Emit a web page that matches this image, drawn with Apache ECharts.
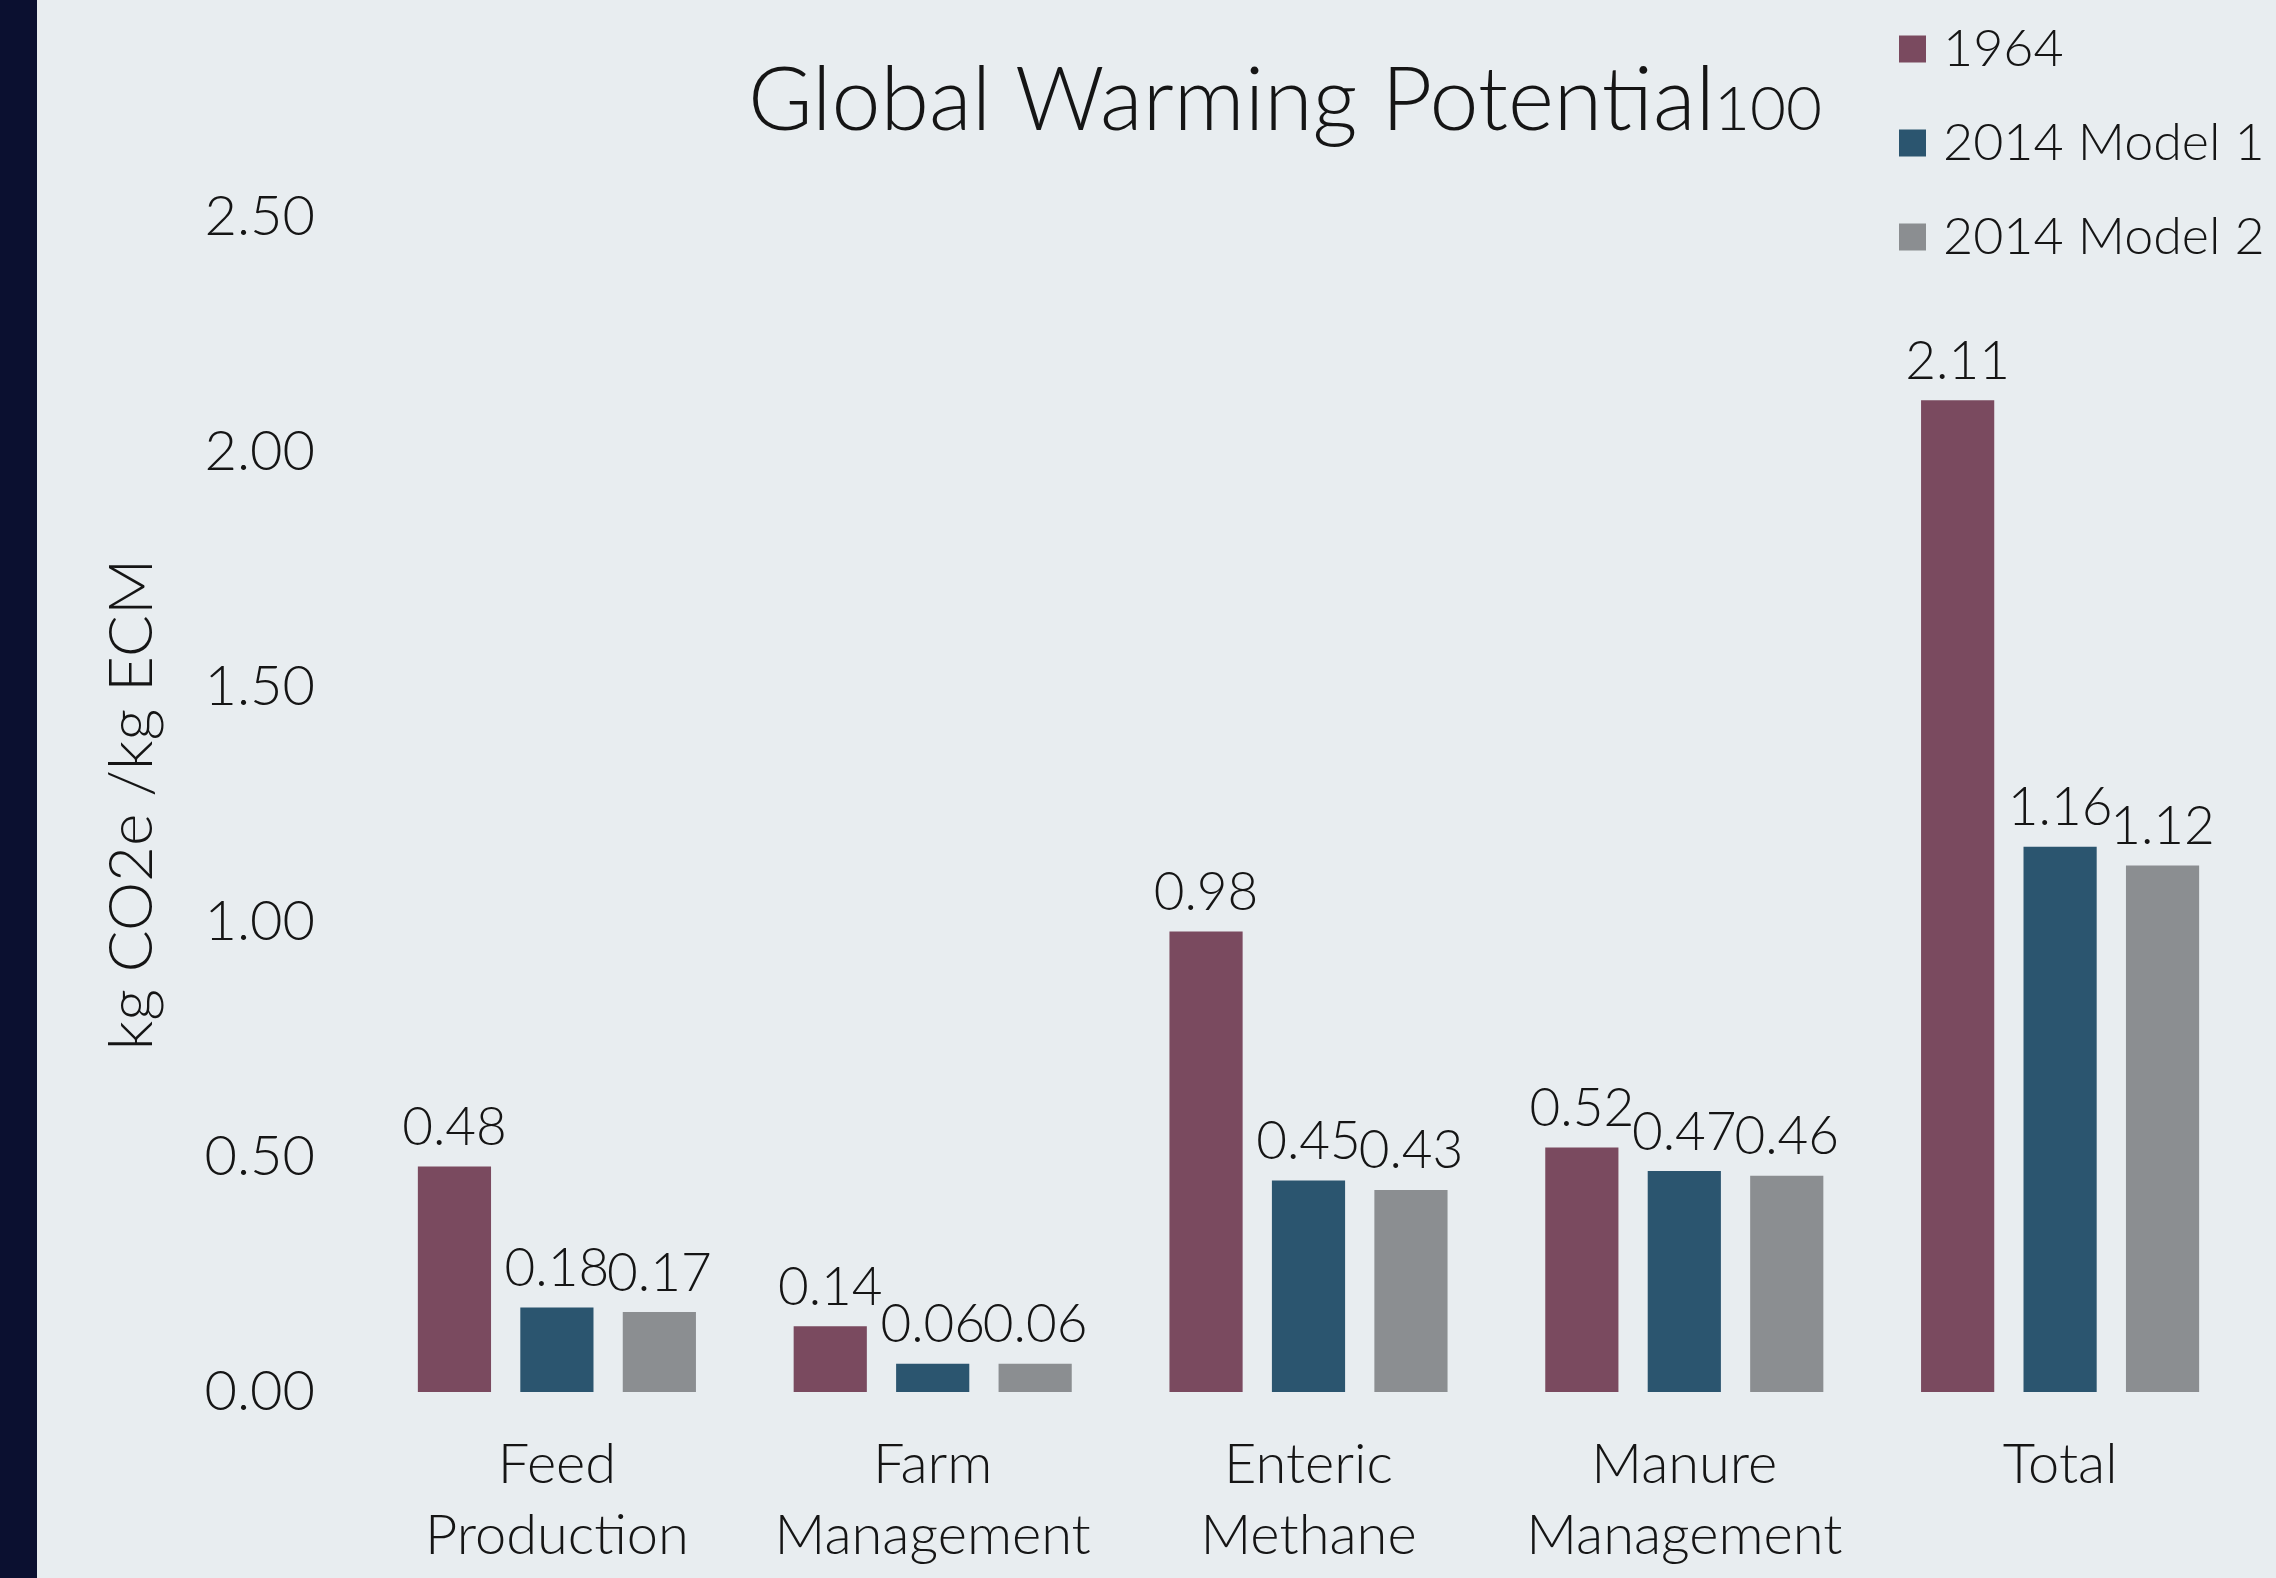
<!DOCTYPE html>
<html>
<head>
<meta charset="utf-8">
<script src="https://cdn.jsdelivr.net/npm/echarts@6/dist/echarts.min.js"></script>
<style>
html,body{margin:0;padding:0;background:#e8edf0;}
#chart{width:2276px;height:1578px;}
</style>
</head>
<body>
<div id="chart"></div>
<script>
const categories = ['Feed\nProduction', 'Farm\nManagement', 'Enteric\nMethane', 'Manure\nManagement', 'Total'];
const seriesNames = ['1964', '2014 Model 1', '2014 Model 2'];
const values1964 = [0.48, 0.14, 0.98, 0.52, 2.11];
const valuesModel1 = [0.18, 0.06, 0.45, 0.47, 1.16];
const valuesModel2 = [0.17, 0.06, 0.43, 0.46, 1.12];
const colors = ['#7a4a5f', '#2b556f', '#8b8e91'];
const titleMain = 'Global Warming Potential';
const titleSub = '100';

const FONT = 'Lato, "Open Sans", sans-serif';
const W = 300;
const chart = echarts.init(document.getElementById('chart'));

function barSeries(name, data, color) {
  return {
    name: name,
    type: 'bar',
    data: data,
    barGap: '40%',
    barCategoryGap: '26%',
    itemStyle: { color: color },
    label: {
      show: true,
      position: 'top',
      distance: 12,
      fontFamily: FONT,
      fontWeight: W,
      fontSize: 53,
      color: '#151515',
      formatter: p => p.value.toFixed(2)
    }
  };
}

chart.setOption({
  backgroundColor: '#e8edf0',
  textStyle: { fontFamily: FONT, fontWeight: W },
  graphic: [{
    type: 'rect', left: 0, top: 0, z: -1,
    shape: { width: 37, height: 1578 },
    style: { fill: '#0b1030' }
  }],
  title: [{
    text: titleMain,
    left: 748,
    top: 58,
    padding: 0,
    textStyle: { fontFamily: FONT, fontWeight: W, fontSize: 88, lineHeight: 88, color: '#151515' }
  }, {
    text: titleSub,
    left: 1714,
    top: 79,
    padding: 0,
    textStyle: { fontFamily: FONT, fontWeight: W, fontSize: 62, lineHeight: 62, color: '#151515' }
  }],
  legend: {
    orient: 'vertical',
    left: 1894,
    top: 18,
    itemWidth: 27,
    itemHeight: 27,
    itemGap: 42,
    icon: 'rect',
    data: seriesNames,
    textStyle: {
      fontFamily: FONT,
      fontWeight: W,
      fontSize: 52,
      lineHeight: 52,
      color: '#151515',
      padding: [0, 0, 0, 12]
    }
  },
  grid: {
    left: 369,
    right: 28,
    top: 217,
    bottom: 186,
    containLabel: false
  },
  xAxis: {
    type: 'category',
    data: categories,
    axisLine: { show: false },
    axisTick: { show: false },
    axisLabel: {
      interval: 0,
      margin: 37,
      fontFamily: FONT,
      fontWeight: W,
      fontSize: 56,
      lineHeight: 71,
      color: '#151515'
    }
  },
  yAxis: {
    type: 'value',
    min: 0,
    max: 2.5,
    interval: 0.5,
    name: 'kg CO2e /kg ECM',
    nameLocation: 'middle',
    nameRotate: 90,
    nameGap: 206,
    nameTextStyle: { fontFamily: FONT, fontWeight: W, fontSize: 62, color: '#151515' },
    axisLine: { show: false },
    axisTick: { show: false },
    splitLine: { show: false },
    axisLabel: {
      margin: 54,
      fontFamily: FONT,
      fontWeight: W,
      fontSize: 56,
      color: '#151515',
      formatter: v => v.toFixed(2)
    }
  },
  series: [
    barSeries(seriesNames[0], values1964, colors[0]),
    barSeries(seriesNames[1], valuesModel1, colors[1]),
    barSeries(seriesNames[2], valuesModel2, colors[2])
  ]
});
</script>
</body>
</html>
